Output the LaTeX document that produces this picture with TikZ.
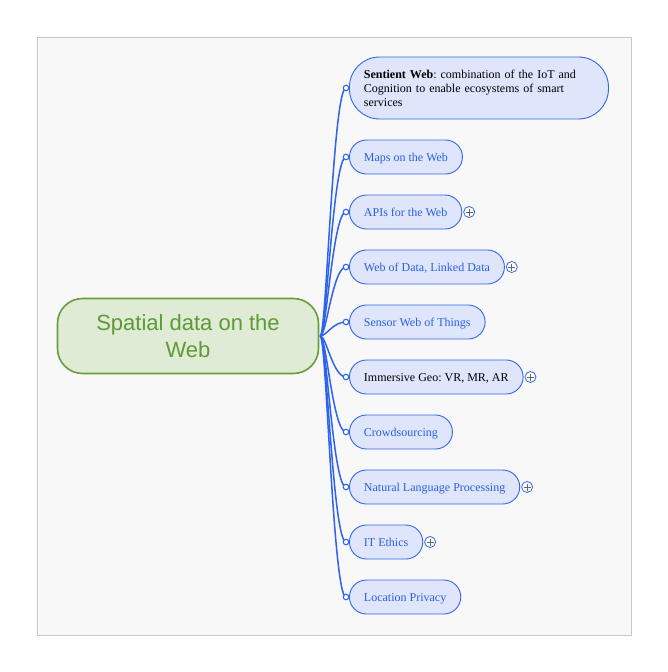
\documentclass[tikz,border=0pt]{standalone}
\usepackage{fontspec}
\setmainfont{Liberation Serif}
\newfontfamily\headfont{Liberation Sans}
\definecolor{frameline}{HTML}{C8C8C8}
\definecolor{framefill}{HTML}{F8F8F8}
\definecolor{rootfill}{HTML}{DFEBD4}
\definecolor{rootline}{HTML}{6A9E3A}
\definecolor{roottext}{HTML}{5E9A35}
\definecolor{kidfill}{HTML}{DFE6FB}
\definecolor{kidline}{HTML}{3366EE}
\definecolor{kidtext}{HTML}{2B5FE3}
\definecolor{conncol}{HTML}{2E62F0}
\tikzset{
  rootbox/.style={draw=rootline, fill=rootfill, line width=1.6pt, rounded corners=25pt,
    minimum width=261pt, minimum height=75pt, align=center, text=roottext,
    font=\headfont\fontsize{22}{27}\selectfont},
  kidbox/.style={draw=kidline, fill=kidfill, line width=0.9pt, rounded corners=17pt,
    minimum height=34pt, inner xsep=14.5pt, anchor=west, text=kidtext,
    text height=11pt, text depth=2pt,
    font=\fontsize{12}{14}\selectfont},
  conn/.style={draw=conncol, line width=1.5pt},
  dot/.style={circle, draw=conncol, fill=white, line width=1.1pt, inner sep=0pt, minimum size=5.5pt},
  plusbtn/.style={circle, draw=kidline, fill=white, line width=0.8pt, inner sep=0pt, minimum size=11pt,
    path picture={\draw[gray!80!black, line width=0.7pt] ([xshift=-3.5pt]path picture bounding box.center) -- ([xshift=3.5pt]path picture bounding box.center) ([yshift=-3.5pt]path picture bounding box.center) -- ([yshift=3.5pt]path picture bounding box.center);}},
}
\hyphenpenalty=10000
\exhyphenpenalty=10000
\begin{document}
\frenchspacing
\begin{tikzpicture}[x=1pt,y=-1pt]
\useasboundingbox (0,0) rectangle (667,672);
\draw[frameline, fill=framefill, line width=0.8pt] (37.5,37.5) rectangle (631,635);

\node[rootbox] (root) at (188,336) {Spatial data on the\\Web};

\node[kidbox, text=black, text width=230pt, align=left, rounded corners=30pt, minimum height=62pt, text height=, text depth=] (k1) at (349,88) {\textbf{Sentient Web}: combination of the IoT and Cognition to enable ecosystems of smart services};
\node[kidbox] (k2) at (349,157) {Maps on the Web};
\node[kidbox] (k3) at (349,212) {APIs for the Web};
\node[kidbox] (k4) at (349,267) {Web of Data, Linked Data};
\node[kidbox] (k5) at (349,322) {Sensor Web of Things};
\node[kidbox, text=black] (k6) at (349,377) {Immersive Geo: VR, MR, AR};
\node[kidbox] (k7) at (349,432) {Crowdsourcing};
\node[kidbox] (k8) at (349,487) {Natural Language Processing};
\node[kidbox] (k9) at (349,542) {IT Ethics};
\node[kidbox] (k10) at (349,597) {Location Privacy};

\foreach \k in {1,...,10} {
  \coordinate (e\k) at ([xshift=-3pt]k\k.west);
  \draw[conn] ([xshift=1pt]root.east) .. controls +(6,0) and +(-13,0) .. (e\k);
  \node[dot] (d\k) at (e\k) {};
}

\node[plusbtn, anchor=west] (p3) at ([xshift=1pt]k3.east) {};
\node[plusbtn, anchor=west] (p4) at ([xshift=1pt]k4.east) {};
\node[plusbtn, anchor=west] (p6) at ([xshift=1pt]k6.east) {};
\node[plusbtn, anchor=west] (p8) at ([xshift=1pt]k8.east) {};
\node[plusbtn, anchor=west] (p9) at ([xshift=1pt]k9.east) {};
\end{tikzpicture}
\end{document}
